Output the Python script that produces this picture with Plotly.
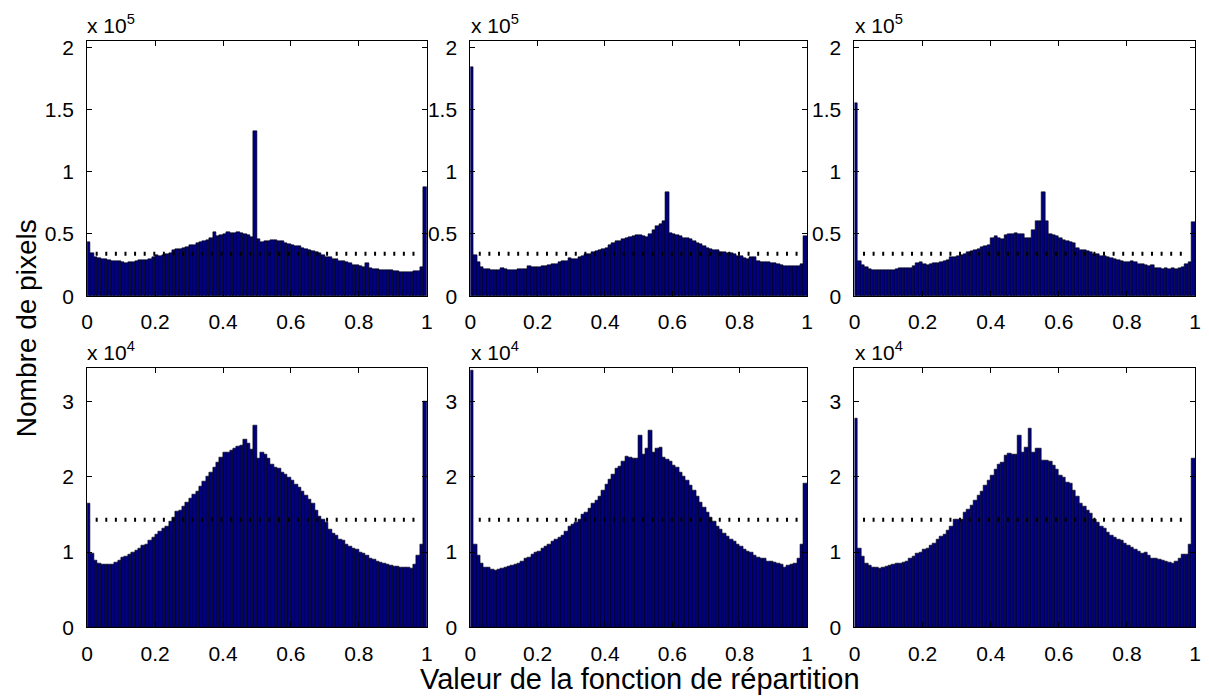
import numpy as np
import plotly.graph_objects as go

# ---------------- data (counts per bin) ----------------
n_bins = 100
bin_edges = np.linspace(0, 1, n_bins + 1)

# top row, in units of 1e5 pixels
top_left = [0.435, 0.345, 0.31, 0.305, 0.30, 0.296, 0.29, 0.284, 0.28, 0.278,
            0.27, 0.267, 0.27, 0.272, 0.283, 0.288, 0.29, 0.29, 0.30, 0.31,
            0.327, 0.325, 0.327, 0.335, 0.345, 0.367, 0.38, 0.382, 0.388, 0.393,
            0.408, 0.414, 0.424, 0.435, 0.44, 0.453, 0.47, 0.515, 0.48, 0.49,
            0.497, 0.513, 0.505, 0.503, 0.515, 0.505, 0.50, 0.49, 0.478, 1.33,
            0.46, 0.435, 0.44, 0.445, 0.448, 0.448, 0.445, 0.44, 0.43, 0.42,
            0.41, 0.405, 0.40, 0.39, 0.382, 0.372, 0.36, 0.355, 0.345, 0.33,
            0.315, 0.31, 0.30, 0.296, 0.285, 0.278, 0.27, 0.262, 0.252, 0.248,
            0.24, 0.236, 0.262, 0.225, 0.217, 0.215, 0.212, 0.21, 0.21, 0.208,
            0.205, 0.20, 0.19, 0.19, 0.192, 0.195, 0.199, 0.205, 0.23, 0.88]

top_mid = [1.84, 0.327, 0.275, 0.235, 0.217, 0.215, 0.213, 0.212, 0.21, 0.225,
           0.217, 0.21, 0.208, 0.21, 0.214, 0.216, 0.218, 0.244, 0.236, 0.234,
           0.236, 0.238, 0.243, 0.246, 0.255, 0.26, 0.27, 0.282, 0.285, 0.305,
           0.296, 0.30, 0.31, 0.325, 0.335, 0.34, 0.355, 0.365, 0.37, 0.374,
           0.39, 0.41, 0.425, 0.445, 0.44, 0.455, 0.465, 0.478, 0.485, 0.49,
           0.492, 0.485, 0.475, 0.50, 0.53, 0.56, 0.575, 0.60, 0.84, 0.51,
           0.50, 0.49, 0.485, 0.47, 0.465, 0.46, 0.445, 0.43, 0.42, 0.40,
           0.39, 0.375, 0.372, 0.37, 0.355, 0.35, 0.348, 0.345, 0.335, 0.325,
           0.32, 0.305, 0.298, 0.31, 0.312, 0.285, 0.275, 0.272, 0.27, 0.268,
           0.262, 0.255, 0.25, 0.245, 0.24, 0.24, 0.24, 0.245, 0.26, 0.485]

top_right = [1.55, 0.285, 0.253, 0.23, 0.215, 0.212, 0.21, 0.21, 0.21, 0.211,
             0.21, 0.212, 0.215, 0.222, 0.222, 0.223, 0.225, 0.24, 0.262, 0.27,
             0.255, 0.252, 0.258, 0.262, 0.265, 0.275, 0.285, 0.29, 0.31, 0.315,
             0.322, 0.332, 0.34, 0.35, 0.365, 0.372, 0.38, 0.395, 0.405, 0.41,
             0.47, 0.48, 0.465, 0.46, 0.49, 0.495, 0.50, 0.503, 0.502, 0.50,
             0.465, 0.47, 0.53, 0.60, 0.60, 0.84, 0.60, 0.50, 0.49, 0.48,
             0.465, 0.45, 0.445, 0.437, 0.425, 0.39, 0.37, 0.366, 0.36, 0.35,
             0.34, 0.335, 0.325, 0.318, 0.312, 0.305, 0.30, 0.29, 0.283, 0.275,
             0.275, 0.28, 0.27, 0.258, 0.255, 0.25, 0.245, 0.248, 0.225, 0.222,
             0.22, 0.222, 0.22, 0.222, 0.22, 0.222, 0.235, 0.255, 0.27, 0.595]

# bottom row, in units of 1e4 pixels
bot_left = [1.65, 0.98, 0.89, 0.85, 0.835, 0.83, 0.83, 0.835, 0.857, 0.89,
            0.925, 0.948, 0.97, 0.99, 1.02, 1.045, 1.095, 1.107, 1.15, 1.19,
            1.237, 1.28, 1.32, 1.345, 1.41, 1.466, 1.54, 1.552, 1.613, 1.656,
            1.712, 1.768, 1.81, 1.87, 1.94, 2.0, 2.057, 2.12, 2.196, 2.26,
            2.33, 2.33, 2.35, 2.38, 2.40, 2.42, 2.50, 2.45, 2.36, 2.68,
            2.25, 2.33, 2.30, 2.25, 2.17, 2.13, 2.11, 2.06, 2.03, 1.99,
            1.95, 1.90, 1.86, 1.80, 1.755, 1.70, 1.647, 1.56, 1.475, 1.43,
            1.388, 1.30, 1.25, 1.215, 1.17, 1.15, 1.107, 1.08, 1.05, 1.03,
            0.99, 0.978, 0.95, 0.922, 0.90, 0.87, 0.86, 0.85, 0.84, 0.82,
            0.815, 0.81, 0.80, 0.797, 0.79, 0.785, 0.835, 0.957, 1.107, 3.0]

bot_mid = [3.42, 1.099, 0.956, 0.848, 0.796, 0.79, 0.775, 0.762, 0.775, 0.783,
           0.796, 0.805, 0.818, 0.835, 0.848, 0.878, 0.913, 0.935, 0.965, 0.99,
           1.008, 1.043, 1.077, 1.107, 1.138, 1.172, 1.194, 1.224, 1.28, 1.345,
           1.366, 1.388, 1.44, 1.496, 1.526, 1.582, 1.647, 1.69, 1.742, 1.82,
           1.898, 1.97, 2.027, 2.113, 2.144, 2.208, 2.273, 2.26, 2.25, 2.24,
           2.545, 2.295, 2.38, 2.62, 2.33, 2.38, 2.39, 2.26, 2.23, 2.20,
           2.157, 2.12, 2.057, 2.0, 1.95, 1.885, 1.82, 1.733, 1.656, 1.595,
           1.526, 1.466, 1.41, 1.345, 1.302, 1.25, 1.207, 1.172, 1.138, 1.107,
           1.077, 1.034, 1.008, 0.99, 0.956, 0.935, 0.922, 0.913, 0.878, 0.87,
           0.861, 0.848, 0.835, 0.79, 0.818, 0.835, 0.848, 0.913, 1.107, 1.91]

bot_right = [2.78, 1.043, 0.948, 0.848, 0.818, 0.796, 0.79, 0.783, 0.79, 0.805,
             0.826, 0.835, 0.848, 0.848, 0.861, 0.878, 0.913, 0.948, 0.978, 1.0,
             1.034, 1.052, 1.095, 1.12, 1.172, 1.207, 1.237, 1.293, 1.345, 1.44,
             1.44, 1.44, 1.526, 1.57, 1.625, 1.69, 1.755, 1.81, 1.885, 1.958,
             2.014, 2.10, 2.165, 2.187, 2.286, 2.316, 2.295, 2.295, 2.554, 2.33,
             2.39, 2.64, 2.33, 2.373, 2.38, 2.217, 2.217, 2.20, 2.157, 2.10,
             2.014, 1.993, 1.928, 1.906, 1.82, 1.742, 1.647, 1.613, 1.56, 1.509,
             1.44, 1.388, 1.336, 1.31, 1.267, 1.224, 1.194, 1.164, 1.15, 1.12,
             1.086, 1.064, 1.034, 1.008, 0.978, 0.99, 0.956, 0.922, 0.913, 0.904,
             0.892, 0.87, 0.861, 0.848, 0.878, 0.913, 0.965, 0.965, 1.107, 2.24]

top_scale = 1e5
bot_scale = 1e4
uniform_top = 0.34   # x 1e5
uniform_bot = 1.43   # x 1e4

x_ticks = [0, 0.2, 0.4, 0.6, 0.8, 1]
x_ticktext = ["0", "0.2", "0.4", "0.6", "0.8", "1"]
top_yticks = [0, 0.5, 1, 1.5, 2]
top_yticktext = ["0", "0.5", "1", "1.5", "2"]
bot_yticks = [0, 1, 2, 3]
bot_yticktext = ["0", "1", "2", "3"]

x_label = "Valeur de la fonction de répartition"
y_label = "Nombre de pixels"

# ---------------- layout geometry ----------------
W, H = 1209, 698
col_px = [(82, 425), (469, 809), (857, 1201)]
row_px = [(37, 298), (372, 637)]  # (top, bottom) in px

FONT = "Liberation Sans, Arial, Helvetica, sans-serif"
BAR_COLOR = "#000080"
TICK_SIZE = 21

centers = (bin_edges[:-1] + bin_edges[1:]) / 2
width = bin_edges[1] - bin_edges[0]

panels = [
    (top_left, top_scale, uniform_top, 0, 0),
    (top_mid, top_scale, uniform_top, 0, 1),
    (top_right, top_scale, uniform_top, 0, 2),
    (bot_left, bot_scale, uniform_bot, 1, 0),
    (bot_mid, bot_scale, uniform_bot, 1, 1),
    (bot_right, bot_scale, uniform_bot, 1, 2),
]

fig = go.Figure()
layout = dict(
    width=W, height=H,
    margin=dict(l=0, r=0, t=0, b=0),
    paper_bgcolor="white", plot_bgcolor="white",
    showlegend=False,
    bargap=0,
    font=dict(family=FONT, size=TICK_SIZE, color="black"),
)
annotations = []

for k, (vals, scale, level, r, c) in enumerate(panels):
    idx = k + 1
    xa = "x" if idx == 1 else f"x{idx}"
    ya = "y" if idx == 1 else f"y{idx}"
    counts = np.array(vals) * scale
    fig.add_trace(go.Bar(
        x=centers, y=counts, width=width,
        marker=dict(color=BAR_COLOR, line=dict(color="black", width=0.6)),
        xaxis=xa, yaxis=ya, hoverinfo="skip",
    ))
    fig.add_trace(go.Scatter(
        x=[0.025, 0.975], y=[level * scale, level * scale],
        mode="lines",
        line=dict(color="black", width=4, dash="2px,7.6px"),
        xaxis=xa, yaxis=ya, hoverinfo="skip",
    ))
    x0, x1 = col_px[c]
    ytop, ybot = row_px[r]
    if r == 0:
        yticks, ytext, yrange, expo = top_yticks, top_yticktext, [0, 2.05 * scale], "5"
    else:
        yticks, ytext, yrange, expo = bot_yticks, bot_yticktext, [0, 3.44 * scale], "4"
    axis_common = dict(
        showline=True, linecolor="black", linewidth=1, mirror="ticks",
        ticks="inside", ticklen=5, tickcolor="black", tickwidth=1,
        showgrid=False, zeroline=False,
        tickfont=dict(family=FONT, size=TICK_SIZE, color="black"),
    )
    layout["xaxis" if idx == 1 else f"xaxis{idx}"] = dict(
        domain=[x0 / W, x1 / W], range=[0, 1],
        tickvals=x_ticks, ticktext=x_ticktext,
        anchor=ya, ticklabelstandoff=7, **axis_common,
    )
    layout["yaxis" if idx == 1 else f"yaxis{idx}"] = dict(
        domain=[1 - ybot / H, 1 - ytop / H], range=yrange,
        tickvals=[t * scale for t in yticks], ticktext=ytext,
        anchor=xa, ticklabelstandoff=8, **axis_common,
    )
    annotations.append(dict(
        text=f"x 10<sup>{expo}</sup>",
        xref=f"{xa} domain", yref=f"{ya} domain",
        x=-0.005, y=1, xanchor="left", yanchor="bottom",
        yshift=2, showarrow=False,
        font=dict(family=FONT, size=21, color="black"),
    ))

annotations.append(dict(
    text=x_label, xref="paper", yref="paper",
    x=640 / W, y=1 - 690 / H, xanchor="center", yanchor="middle",
    showarrow=False, font=dict(family=FONT, size=29, color="black"),
))
annotations.append(dict(
    text=y_label, xref="paper", yref="paper",
    x=21 / W, y=1 - 331 / H, xanchor="center", yanchor="middle",
    textangle=-90, showarrow=False, font=dict(family=FONT, size=28, color="black"),
))
layout["annotations"] = annotations
fig.update_layout(**layout)
fig.write_html("out.html")
